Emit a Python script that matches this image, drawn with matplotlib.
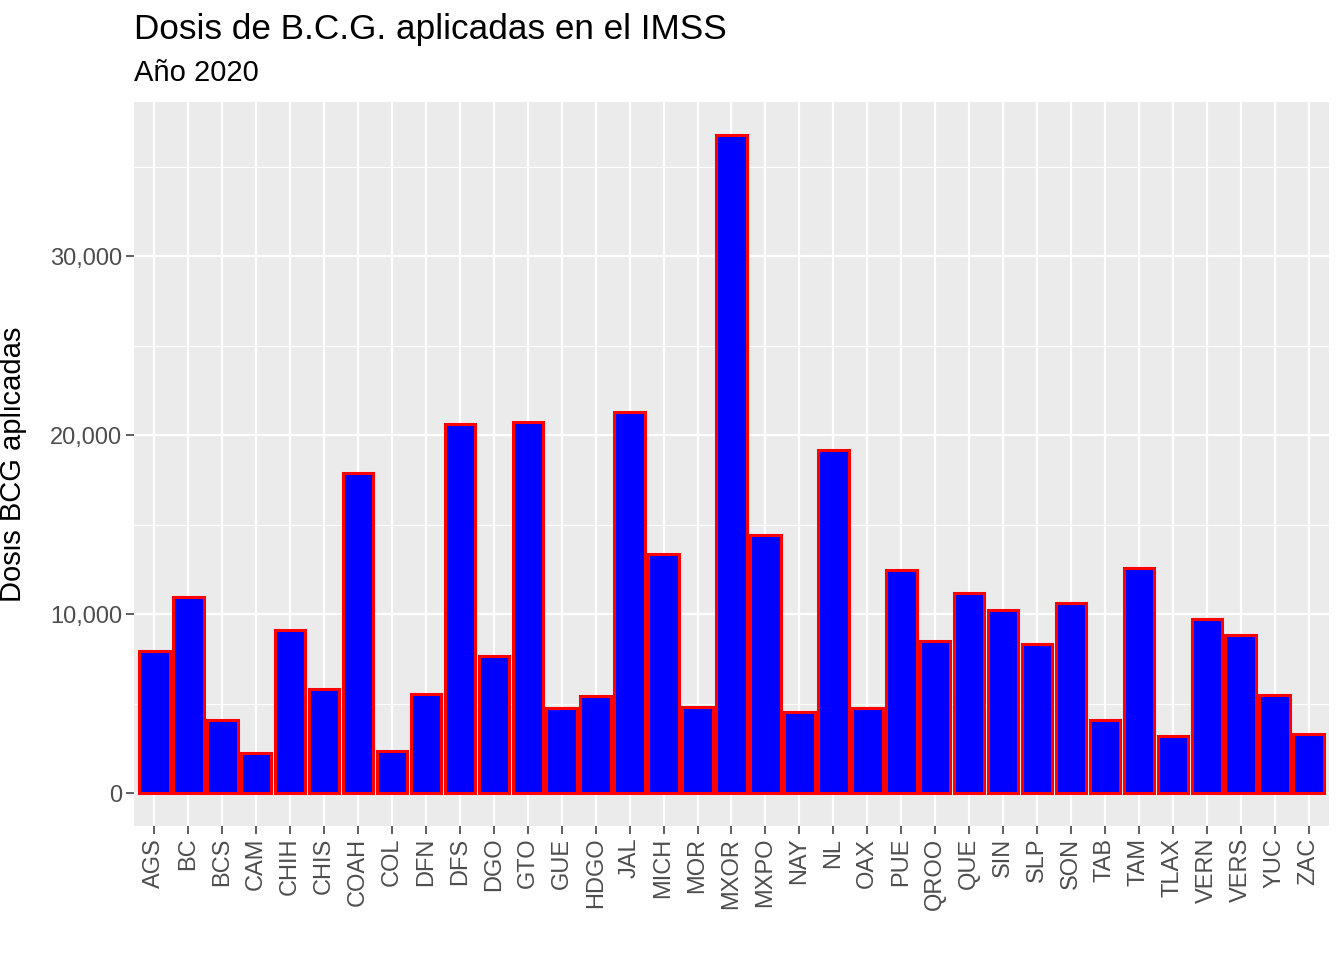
import numpy as np
import matplotlib
matplotlib.use("Agg")
import matplotlib.pyplot as plt
from matplotlib.ticker import FuncFormatter, MultipleLocator

plt.rcParams['font.family'] = ['Liberation Sans', 'DejaVu Sans']

estados = ["AGS", "BC", "BCS", "CAM", "CHIH", "CHIS", "COAH", "COL", "DFN", "DFS",
           "DGO", "GTO", "GUE", "HDGO", "JAL", "MICH", "MOR", "MXOR", "MXPO", "NAY",
           "NL", "OAX", "PUE", "QROO", "QUE", "SIN", "SLP", "SON", "TAB", "TAM",
           "TLAX", "VERN", "VERS", "YUC", "ZAC"]
dosis = [7930, 10980, 4070, 2260, 9110, 5800, 17870, 2330, 5560, 20630,
         7650, 20710, 4740, 5450, 21300, 13370, 4820, 36770, 14420, 4510,
         19180, 4760, 12450, 8480, 11180, 10210, 8330, 10620, 4070, 12580,
         3170, 9710, 8830, 5470, 3280]

fig = plt.figure(figsize=(13.44, 9.6), dpi=100)
ax = fig.add_axes([134/1344, 1 - 826/960, (1329-134)/1344, (826-102)/960])
ax.set_facecolor("#EBEBEB")

x = np.arange(1, len(estados) + 1)
ax.bar(x, dosis, width=0.9, color="blue", edgecolor="red", linewidth=2.2, zorder=3)

ymax = max(dosis)
pad = ymax * 0.05
ax.set_ylim(-pad, ymax + pad)
ax.set_xlim(0.4, len(estados) + 0.6)

ax.yaxis.set_major_locator(MultipleLocator(10000))
ax.yaxis.set_minor_locator(MultipleLocator(5000))
ax.yaxis.set_major_formatter(FuncFormatter(lambda v, p: f"{int(v):,}"))
ax.set_xticks(x)
ax.set_xticklabels(estados, rotation=90)

ax.grid(which="major", color="white", linewidth=1.6, zorder=0)
ax.grid(which="minor", axis="y", color="white", linewidth=0.8, zorder=0)
ax.set_axisbelow(True)
for s in ax.spines.values():
    s.set_visible(False)

ax.tick_params(which="major", length=5.5, width=1.1, color="#333333",
               labelcolor="#4D4D4D", labelsize=17, pad=3)
ax.tick_params(which="minor", length=0)

ax.set_ylabel("Dosis BCG aplicadas", fontsize=21)
ax.yaxis.set_label_coords((27 - 134) / 1195, 0.5)

fig.text(134/1344, 1 - 30/960, "Dosis de B.C.G. aplicadas en el IMSS",
         fontsize=25.3, va="center", ha="left")
fig.text(134/1344, 1 - 73/960, "Año 2020", fontsize=21, va="center", ha="left")

fig.savefig("out.png", dpi=100, facecolor="white")
